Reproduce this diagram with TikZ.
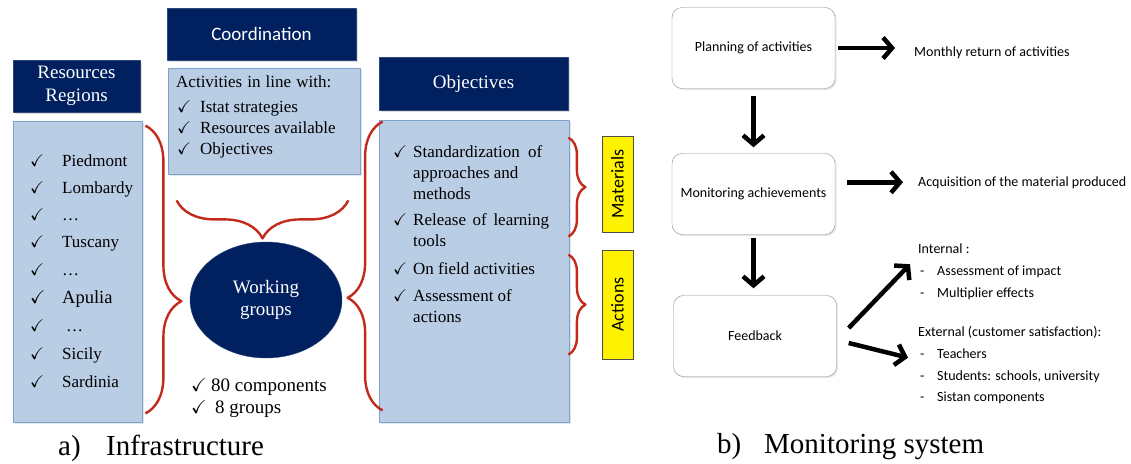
\documentclass[tikz,border=0pt]{standalone}
\usepackage{amssymb}
\usepackage{fontspec}
\setmainfont{Liberation Serif}
\newfontfamily\calibri{Carlito}
\usetikzlibrary{arrows.meta,decorations.pathreplacing,shapes.geometric,shadows}

\definecolor{hdrblue}{HTML}{002060}
\definecolor{hdrline}{HTML}{2E4A7A}
\definecolor{listblue}{HTML}{B9CDE5}
\definecolor{listline}{HTML}{7EA1CE}
\definecolor{bracered}{HTML}{C42A1C}

% check mark followed by a fixed gap
\newcommand{\ckm}[1][20pt]{\makebox[#1][l]{$\checkmark$}}

\begin{document}
\begin{tikzpicture}[x=1pt,y=-1pt,line join=round]
\tikzset{
  hdr/.style={draw=hdrline,fill=hdrblue,text=white,minimum height=52pt,inner sep=2pt,
    drop shadow={opacity=0.25,shadow xshift=1.5pt,shadow yshift=-1.5pt}},
  listbox/.style={draw=listline,fill=listblue,line width=0.8pt,
    drop shadow={opacity=0.2,shadow xshift=1.5pt,shadow yshift=-1.5pt}},
  item/.style={anchor=base west,inner sep=0pt,font=\fontsize{17}{20}\selectfont},
  bigitem/.style={anchor=base west,inner sep=0pt,font=\fontsize{19}{22}\selectfont},
  note/.style={anchor=base west,inner sep=0pt,font=\calibri\fontsize{14}{17}\selectfont},
  tag/.style={draw=black!70,fill=yellow,rotate=90,minimum height=31pt,inner sep=0pt,
    font=\calibri\fontsize{18}{20}\selectfont},
  stage/.style={draw=black!45,fill=white,rounded corners=10pt,minimum width=163pt,
    minimum height=81pt,font=\calibri\fontsize{14}{17}\selectfont,
    drop shadow={opacity=0.2,shadow xshift=1.5pt,shadow yshift=-1.5pt}},
  redbrace/.style={draw=bracered,line width=2.4pt,decorate,decoration={brace,amplitude=#1}},
  fat/.style={line width=4.5pt,-{Straight Barb[length=9pt,width=21pt]}},
  caption/.style={anchor=base west,inner sep=0pt,font=\fontsize{29}{32}\selectfont}
}
\useasboundingbox (0,0) rectangle (1131,463);

% a) infrastructure
\node[hdr,minimum width=189pt,font=\calibri\fontsize{19}{23}\selectfont] (coord) at (261.5,34) {Coordination};
\node[hdr,minimum width=127pt,align=center,font=\fontsize{19}{23}\selectfont] (reshdr) at (76.5,86) {Resources\\Regions};
\node[hdr,minimum width=189pt,minimum height=53pt,font=\fontsize{19}{23}\selectfont] (objhdr) at (473.5,83.5) {Objectives};

\node[listbox,minimum width=192pt,minimum height=106pt] (coordbox) at (264,121) {};
\node[listbox,minimum width=129pt,minimum height=301pt] (regions) at (77.5,271.5) {};
\node[listbox,minimum width=190pt,minimum height=302pt] (objbox) at (474,271) {};

\node[item] (act) at (176,87) {\makebox[155pt][s]{Activities in line with:}};
\node[item] (istat) at (177,112) {\ckm[23pt]Istat strategies};
\node[item] (avail) at (177,133) {\ckm[23pt]Resources available};
\node[item] (aims) at (177,154) {\ckm[23pt]Objectives};

\node[item] (piem) at (30,166) {\ckm[32pt]Piedmont};
\node[item] (lomb) at (30,193) {\ckm[32pt]Lombardy};
\node[item] (dotsa) at (30,220) {\ckm[32pt]\ldots};
\node[item] (tusc) at (30,247) {\ckm[32pt]Tuscany};
\node[item] (dotsb) at (30,275) {\ckm[32pt]\ldots};
\node[item,font=\fontsize{18.5}{20}\selectfont] (apul) at (30,303) {\ckm[32pt]Apulia};
\node[item] (dotsc) at (30,331) {\ckm[36pt]\ldots};
\node[item] (sici) at (30,359) {\ckm[32pt]Sicily};
\node[item] (sard) at (30,387) {\ckm[32pt]Sardinia};

\node[item] (std) at (393,157) {\ckm\makebox[129pt][s]{Standardization of}};
\node[item] (std2) at (413,178) {approaches and};
\node[item] (std3) at (413,199) {methods};
\node[item] (rel) at (393,225) {\ckm\makebox[136pt][s]{Release of learning}};
\node[item] (rel2) at (413,246) {tools};
\node[item] (field) at (393,274) {\ckm On field activities};
\node[item] (asses) at (393,301) {\ckm Assessment of};
\node[item] (asses2) at (413,322) {actions};

\node[ellipse,draw=hdrline,fill=hdrblue,text=white,minimum width=152pt,minimum height=116pt,
  align=center,font=\fontsize{19}{22}\selectfont] (wg) at (266,300) {Working\\groups};
\node[bigitem] (comp) at (191,391) {\ckm80 components};
\node[bigitem] (grp) at (191,413) {\ckm[24pt]8 groups};

\node[tag,minimum width=96pt] (mat) at (617.5,184) {Materials};
\node[tag,minimum width=109pt] (actn) at (617.5,304.5) {Actions};

\draw[redbrace=36,decoration={aspect=0.61}] ([shift={(3pt,-5pt)}]regions.north east) -- ([shift={(3pt,9pt)}]regions.south east);
\draw[redbrace=38] ([shift={(-12pt,-26pt)}]coordbox.south east) -- ([shift={(9pt,-26pt)}]coordbox.south west);
\draw[redbrace=35,decoration={aspect=0.39}] ([shift={(4pt,12pt)}]objbox.south west) -- ([shift={(4pt,-2pt)}]objbox.north west);
\draw[redbrace=17] ([shift={(-1pt,-18pt)}]objbox.north east) -- ([shift={(-1pt,-117pt)}]objbox.north east);
\draw[redbrace=17] ([shift={(-1pt,-135pt)}]objbox.north east) -- ([shift={(-1pt,-235pt)}]objbox.north east);

\node[caption] (capa) at (58,455) {\makebox[48pt][l]{a)}Infrastructure};

% b) monitoring system
\node[stage] (plan) at (753.5,48) {Planning of activities};
\node[stage] (monit) at (753.5,194) {Monitoring achievements};
\node[stage] (fb) at (755,336) {Feedback};

\node[note] (monthly) at (914,56) {Monthly return of activities};
\node[note] (acq) at (918,186) {Acquisition of the material produced};
\node[note] (internal) at (918,253) {Internal :};
\node[note] (impact) at (920,275) {\makebox[17pt][l]{-}Assessment of impact};
\node[note] (multi) at (920,297) {\makebox[17pt][l]{-}Multiplier effects};
\node[note] (external) at (918,336) {External (customer satisfaction):};
\node[note] (teach) at (920,358) {\makebox[17pt][l]{-}Teachers};
\node[note] (stud) at (920,380) {\makebox[17pt][l]{-}Students: schools, university};
\node[note] (sistan) at (920,401) {\makebox[17pt][l]{-}Sistan components};

\draw[fat,shorten <=3pt,shorten >=19pt] (plan.east) -- (plan.east -| monthly.west);
\draw[fat,shorten <=12pt,shorten >=15pt] (monit.east |- acq.west) -- (acq.west);
\draw[fat,shorten <=7pt,shorten >=6pt] (plan.south) -- (monit.north);
\draw[fat,shorten <=3pt,shorten >=7pt] (monit.south) -- (monit.south |- fb.north);
\draw[fat] ([shift={(12pt,8pt)}]fb.east) -- ([shift={(-8pt,-16pt)}]internal.west);
\draw[fat] ([shift={(12pt,-7pt)}]fb.east) -- ([shift={(-12pt,-4.5pt)}]teach.west);

\node[caption] (capb) at (717,453) {\makebox[47pt][l]{b)}Monitoring system};
\end{tikzpicture}
\end{document}
